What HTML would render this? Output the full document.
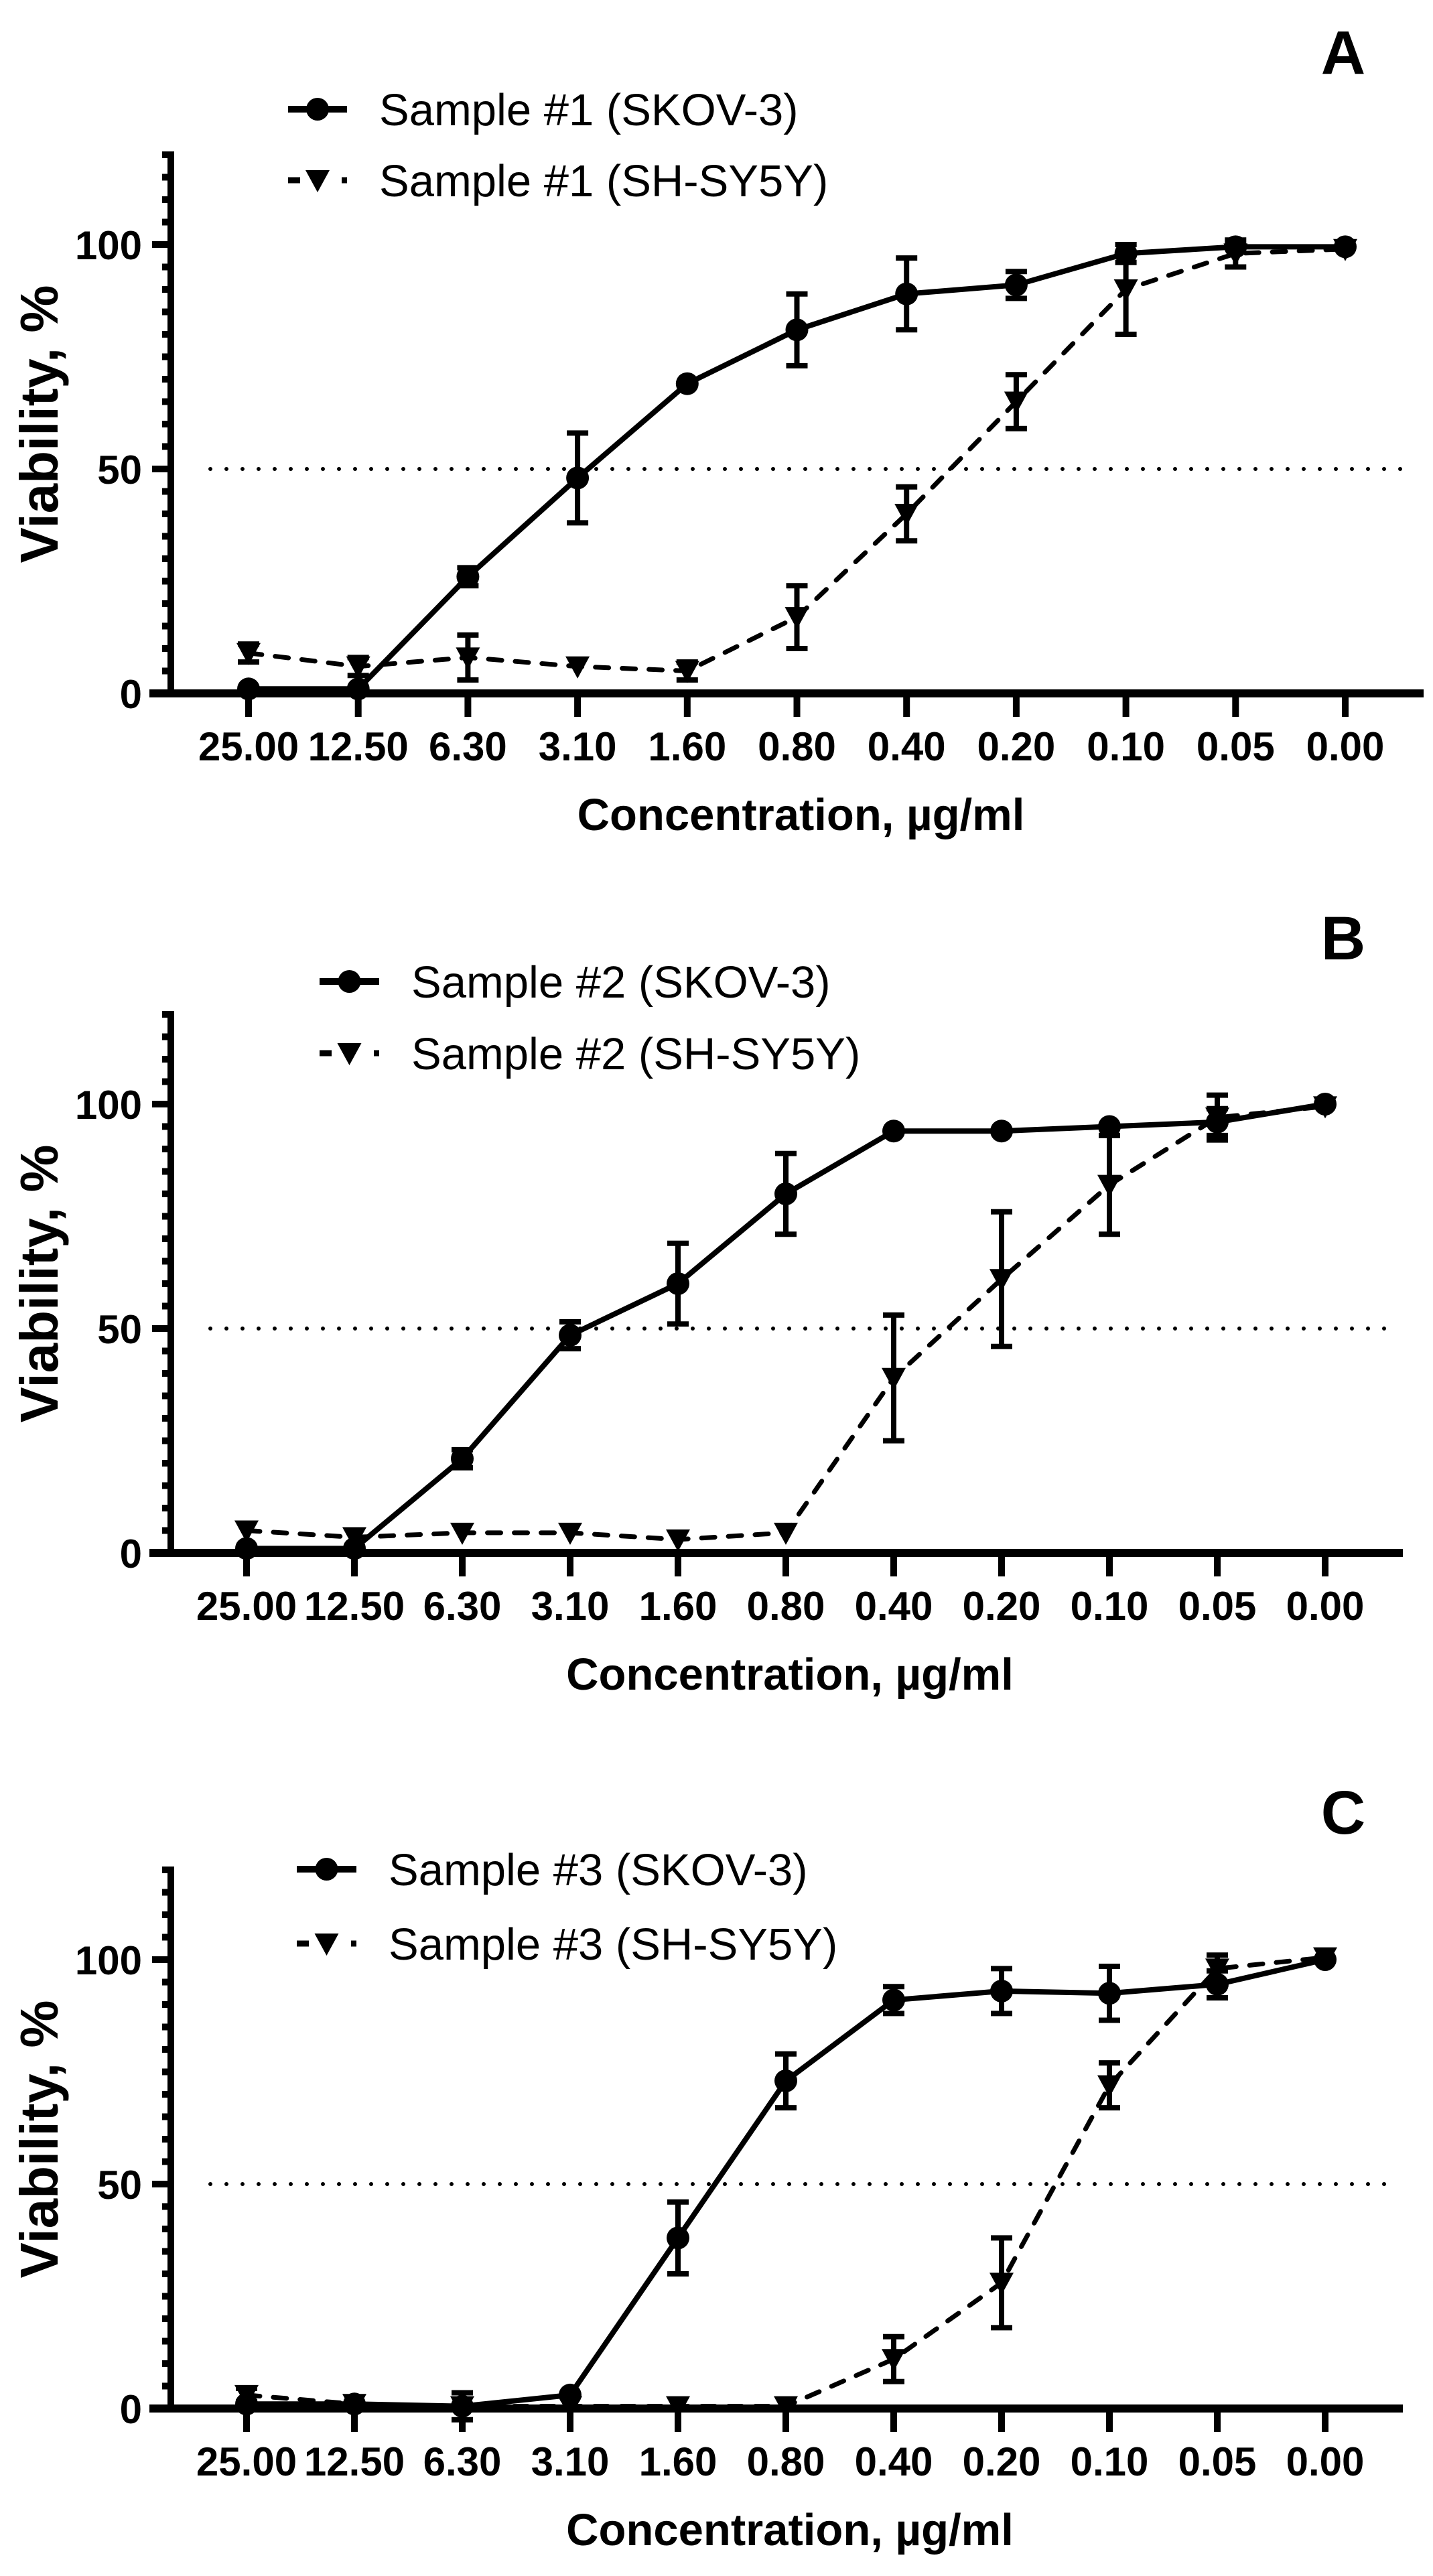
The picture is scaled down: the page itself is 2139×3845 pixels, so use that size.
<!DOCTYPE html>
<html><head><meta charset="utf-8"><style>
html,body{margin:0;padding:0;background:#fff;}
svg{display:block;}
text{font-family:"Liberation Sans",Arial,sans-serif;fill:#000;}
</style></head><body>
<svg id="fig" xmlns="http://www.w3.org/2000/svg" width="2139" height="3845" viewBox="0 0 2139 3845"></svg>
<script>
const categories = ["25.00","12.50","6.30","3.10","1.60","0.80","0.40","0.20","0.10","0.05","0.00"];
const yTickLabels = [0, 50, 100];
const panelLetters = ["A","B","C"];
const skovLabels = ["Sample #1 (SKOV-3)","Sample #2 (SKOV-3)","Sample #3 (SKOV-3)"];
const shLabels = ["Sample #1 (SH-SY5Y)","Sample #2 (SH-SY5Y)","Sample #3 (SH-SY5Y)"];
const skovA = [1,1,26,48,69,81,89,91,98,99.5,99.5];
const skovAErr = [0.5,1,2,10,1,8,8,3,2,1,1];
const shA = [9,6,8,6,5,17,40,65,90,98,99];
const shAErr = [2,2,5,1,2,7,6,6,10,3,1];
const skovB = [1,1,21,48.5,60,80,94,94,95,96,100];
const skovBErr = [0.5,0.5,2,3,9,9,1,1,1,3,1];
const shB = [5,3.5,4.5,4.5,3,4.5,39,61,82,97,99.5];
const shBErr = [1,1,1,1,1,1,14,15,11,5,1];
const skovC = [1,1,0.5,3,38,73,91,93,92.5,94.5,100];
const skovCErr = [0.5,0.5,3,0.5,8,6,3,5,6,3,1];
const shC = [3,1,0.5,0.5,0.5,0.5,11,28,72,98,100.5];
const shCErr = [1.5,1,1,0.5,0.5,0.5,5,10,5,3,1];

const NS = "http://www.w3.org/2000/svg";
const svg = document.getElementById('fig');
function mk(tag, attrs, parent){
  const e = document.createElementNS(NS, tag);
  for (const k in attrs) e.setAttribute(k, attrs[k]);
  (parent||svg).appendChild(e);
  return e;
}
const layouts = [
  {y0:1035, x0:371, x1:2008, xr:2125, lx1:430, lx2:518, ly1:163, ly2:269, tx:566, letY:110, skov:skovA, skovE:skovAErr, sh:shA, shE:shAErr},
  {y0:2318, x0:368, x1:1978, xr:2094, lx1:477, lx2:566, ly1:1465, ly2:1572, tx:614, letY:1432, skov:skovB, skovE:skovBErr, sh:shB, shE:shBErr},
  {y0:3595, x0:368, x1:1978, xr:2094, lx1:443, lx2:532, ly1:2790, ly2:2901, tx:580, letY:2737, skov:skovC, skovE:skovCErr, sh:shC, shE:shCErr}
];
const AX = 255, PPU = 6.7;

function circle(g, x, y){ mk('circle',{cx:x,cy:y,r:17,fill:'#000'},g); }
function tri(g, x, y){ mk('path',{d:`M${x-18} ${y-15} L${x+18} ${y-15} L${x} ${y+18} Z`,fill:'#000'},g); }

layouts.forEach((L, p) => {
  const xS = i => L.x0 + (L.x1 - L.x0) * i / (categories.length - 1);
  const yS = v => L.y0 - v * PPU;
  const g = mk('g', {});
  
  

  const ref = mk('line',{x1:314,x2:L.xr-15,y1:yS(50),y2:yS(50),stroke:'#000','stroke-width':6,'stroke-dasharray':'0 24','stroke-linecap':'round'},g);
  
  

  const yax = mk('g',{},g);
  
  
  mk('line',{x1:AX,x2:AX,y1:yS(120)-5,y2:L.y0+6,stroke:'#000','stroke-width':10},yax);
  for (let v = 0; v <= 120; v += 5) {
    const major = yTickLabels.includes(v);
    mk('line',{x1:major?227:242,x2:AX,y1:yS(v),y2:yS(v),stroke:'#000','stroke-width':10},yax);
  }
  yTickLabels.forEach(v => {
    const t = mk('text',{x:212,y:yS(v)+22,'text-anchor':'end','font-size':60,'font-weight':'bold'},yax);
    t.textContent = v;
    
    
  });
  const yt = mk('text',{x:0,y:0,'text-anchor':'middle','font-size':80,'font-weight':'bold',transform:`translate(86,${(yS(120)+L.y0)/2}) rotate(-90)`},g);
  yt.textContent = 'Viability, %';
  
  

  const xax = mk('g',{},g);
  
  
  mk('line',{x1:AX-32,x2:L.xr,y1:L.y0,y2:L.y0,stroke:'#000','stroke-width':12},xax);
  categories.forEach((c,i) => {
    mk('line',{x1:xS(i),x2:xS(i),y1:L.y0,y2:L.y0+35,stroke:'#000','stroke-width':10},xax);
    const t = mk('text',{x:xS(i),y:L.y0+100,'text-anchor':'middle','font-size':60,'font-weight':'bold'},xax);
    t.textContent = c;
    
    
  });
  const xt = mk('text',{x:(L.x0+L.x1)/2+6,y:L.y0+204,'text-anchor':'middle','font-size':67,'font-weight':'bold'},g);
  xt.textContent = 'Concentration, µg/ml';
  
  

  const drawSeries = (vals, errs, dashed, name) => {
    const sg = mk('g',{},g);
    
    
    const pts = vals.map((v,i)=>`${xS(i)},${yS(v)}`).join(' ');
    mk('polyline',{points:pts,fill:'none',stroke:'#000','stroke-width':dashed?7:8,'stroke-dasharray':dashed?'20 20':'none','stroke-linecap':dashed?'round':'butt','stroke-linejoin':'round'},sg);
    vals.forEach((v,i)=>{
      const e = errs[i];
      if (e >= 1.5) {
        mk('line',{x1:xS(i),x2:xS(i),y1:yS(v+e),y2:yS(v-e),stroke:'#000','stroke-width':8},sg);
        mk('line',{x1:xS(i)-16,x2:xS(i)+16,y1:yS(v+e),y2:yS(v+e),stroke:'#000','stroke-width':8},sg);
        mk('line',{x1:xS(i)-16,x2:xS(i)+16,y1:yS(v-e),y2:yS(v-e),stroke:'#000','stroke-width':8},sg);
      }
      if (dashed) tri(sg, xS(i), yS(v)); else circle(sg, xS(i), yS(v));
    });
  };
  drawSeries(L.sh, L.shE, true, 'series-sh-sy5y');
  drawSeries(L.skov, L.skovE, false, 'series-skov-3');

  const lg1 = mk('g',{},g);
  
  
  mk('line',{x1:L.lx1,x2:L.lx2,y1:L.ly1,y2:L.ly1,stroke:'#000','stroke-width':10},lg1);
  circle(lg1,(L.lx1+L.lx2)/2,L.ly1);
  const t1 = mk('text',{x:L.tx,y:L.ly1+24,'font-size':67},lg1);
  t1.textContent = skovLabels[p];
  const lg2 = mk('g',{},g);
  
  
  mk('line',{x1:L.lx1,x2:L.lx1+18,y1:L.ly2,y2:L.ly2,stroke:'#000','stroke-width':9},lg2);
  mk('line',{x1:L.lx2-8,x2:L.lx2,y1:L.ly2,y2:L.ly2,stroke:'#000','stroke-width':9},lg2);
  tri(lg2,(L.lx1+L.lx2)/2,L.ly2);
  const t2 = mk('text',{x:L.tx,y:L.ly2+24,'font-size':67},lg2);
  t2.textContent = shLabels[p];

  const let_ = mk('text',{x:2005,y:L.letY,'text-anchor':'middle','font-size':92,'font-weight':'bold'},g);
  let_.textContent = panelLetters[p];
  
  
});
</script>
</body></html>
